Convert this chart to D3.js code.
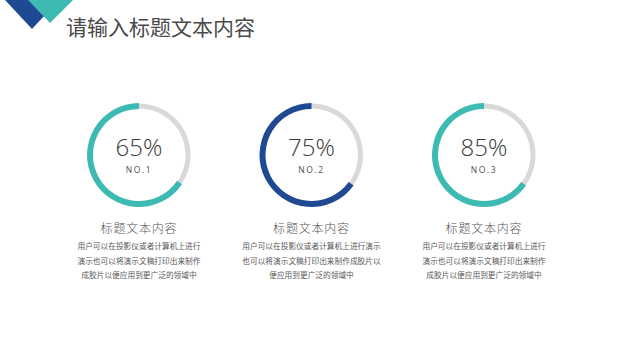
<!DOCTYPE html>
<html>
<head>
<meta charset="utf-8">
<script src="https://cdn.jsdelivr.net/npm/d3@7"></script>
<style>
  body { margin: 0; background: #fff; }
  svg { display: block; }
</style>
</head>
<body>
<script>
// values shown in the rings
const labels = ["65%", "75%", "85%"];
const ranks = ["NO.1", "NO.2", "NO.3"];
// share of the ring that is coloured, as it appears in the picture
const arcShare = [0.655, 0.65, 0.65];
const ringColors = ["#3dbab2", "#1f4993", "#3dbab2"];
const captions = ["标题文本内容", "标题文本内容", "标题文本内容"];
const bodyLines = [
  ["用户可以在投影仪或者计算机上进行", "演示也可以将演示文稿打印出来制作", "成胶片以便应用到更广泛的领域中"],
  ["用户可以在投影仪或者计算机上进行演示", "也可以将演示文稿打印出来制作成胶片以", "便应用到更广泛的领域中"],
  ["用户可以在投影仪或者计算机上进行", "演示也可以将演示文稿打印出来制作", "成胶片以便应用到更广泛的领域中"]
];

const W = 622, H = 350;
const cjk = "'Noto Sans CJK SC', 'Noto Sans', sans-serif";

let svg = d3.select("body").append("svg").attr("width", W).attr("height", H);

// corner decoration
svg.append("polygon").attr("points", "5,0 59,0 32,29").attr("fill", "#1f4993");
svg.append("polygon").attr("points", "28,0 73,0 50,23").attr("fill", "#3dbab2");

svg.append("text")
  .attr("x", 66).attr("y", 35)
  .attr("font-family", cjk).attr("font-size", 21)
  .attr("fill", "#4a4a4a")
  .text("请输入标题文本内容");

let x = d3.scalePoint().domain(d3.range(labels.length)).range([139, 484]);
let ang = d3.scaleLinear().domain([0, 1]).range([0, -2 * Math.PI]);

const cy = 155, rOut = 52, rIn = 46;
let arc = d3.arc().innerRadius(rIn).outerRadius(rOut);
let bgArc = d3.arc().innerRadius(rIn + 0.5).outerRadius(rOut - 0.5);

for (let i = 0; i < labels.length; i++) {
  let g = svg.append("g").attr("transform", "translate(" + x(i) + "," + cy + ")");
  g.append("path")
    .attr("d", bgArc({ startAngle: 0, endAngle: 2 * Math.PI }))
    .attr("fill", "#d9d9d9");
  g.append("path")
    .attr("d", arc({ startAngle: ang(arcShare[i]), endAngle: 0 }))
    .attr("fill", ringColors[i]);
  g.append("text")
    .attr("text-anchor", "middle").attr("y", 1)
    .attr("font-family", "'Open Sans', sans-serif").attr("font-weight", 300)
    .attr("font-size", 24).attr("fill", "#3a3a3a")
    .text(labels[i]);
  g.append("text")
    .attr("text-anchor", "middle").attr("y", 18)
    .attr("font-family", "'Open Sans', sans-serif")
    .attr("font-size", 8.5).attr("letter-spacing", 1.6).attr("fill", "#505050")
    .text(ranks[i]);

  svg.append("text")
    .attr("x", x(i)).attr("y", 233)
    .attr("text-anchor", "middle")
    .attr("font-family", cjk).attr("font-size", 12).attr("letter-spacing", 0.8)
    .attr("font-weight", 300)
    .attr("fill", "#555")
    .text(captions[i]);

  svg.selectAll(null).data(bodyLines[i]).enter().append("text")
    .attr("x", x(i)).attr("y", (d, k) => 249 + k * 14.5)
    .attr("text-anchor", "middle")
    .attr("font-family", cjk).attr("font-size", 7.7)
    .attr("fill", "#595959")
    .text(d => d);
}
</script>
</body>
</html>
